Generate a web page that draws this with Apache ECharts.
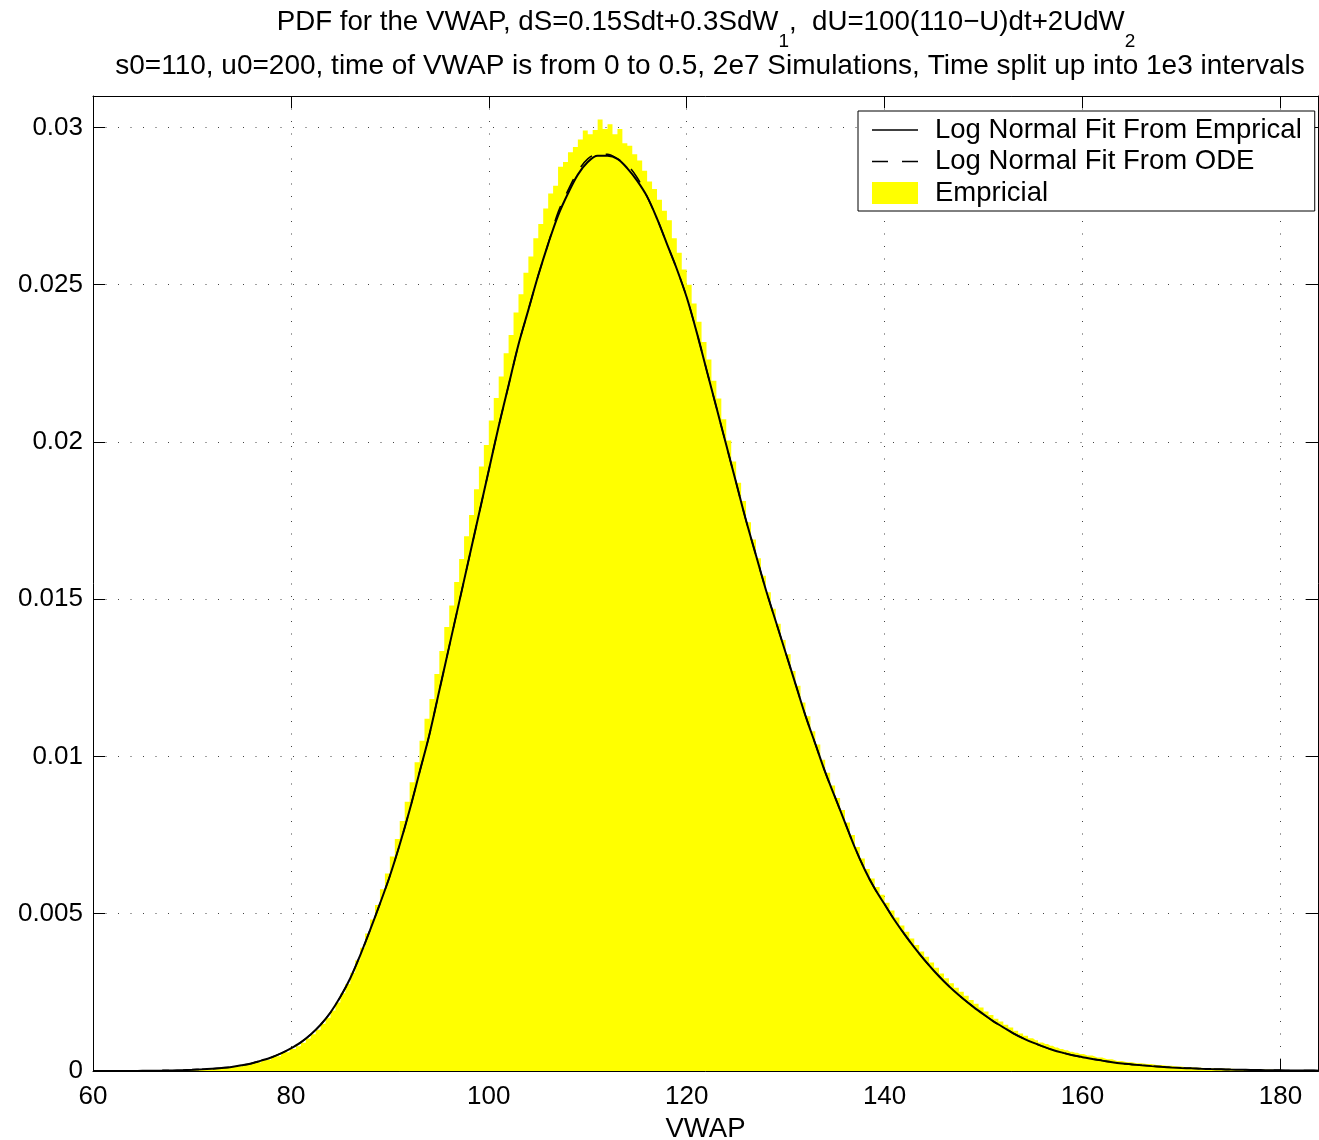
<!DOCTYPE html>
<html>
<head>
<meta charset="utf-8">
<script src="https://cdn.jsdelivr.net/npm/echarts@6/dist/echarts.min.js"></script>
<style>
  html, body { margin: 0; padding: 0; background: #fff; }
  #chart { width: 1319px; height: 1140px; }
</style>
</head>
<body>
<div id="chart"></div>
<script>
const FONT = '"Liberation Sans", Arial, Helvetica, sans-serif';

// Sample points of the fitted log-normal densities
const fitX = [
  60, 61, 62, 63, 64, 65, 66, 67, 68, 69,
  70, 71, 72, 73, 74, 75, 76, 77, 78, 79,
  80, 81, 82, 83, 84, 85, 86, 87, 88, 89,
  90, 91, 92, 93, 94, 95, 96, 97, 98, 99,
  100, 101, 102, 103, 104, 105, 106, 107, 108, 109,
  110, 111, 112, 113, 114, 115, 116, 117, 118, 119,
  120, 121, 122, 123, 124, 125, 126, 127, 128, 129,
  130, 131, 132, 133, 134, 135, 136, 137, 138, 139,
  140, 141, 142, 143, 144, 145, 146, 147, 148, 149,
  150, 151, 152, 153, 154, 155, 156, 157, 158, 159,
  160, 161, 162, 163, 164, 165, 166, 167, 168, 169,
  170, 171, 172, 173, 174, 175, 176, 177, 178, 179,
  180, 181, 182, 183, 184
];

// Log-normal fit from the empirical sample
const fitEmpirical = [
  0, 0, 0.000001, 0.000002, 0.000003, 0.000005, 0.000008, 0.000012, 0.000018, 0.000026,
  0.000037, 0.000052, 0.000072, 0.000098, 0.00013, 0.00018, 0.00024, 0.00033, 0.00043, 0.00056,
  0.00072, 0.00091, 0.00116, 0.00147, 0.00186, 0.00236, 0.00295, 0.00368, 0.00448, 0.00532,
  0.0062, 0.0072, 0.0083, 0.0095, 0.0107, 0.0121, 0.0135, 0.0149, 0.0163, 0.0177,
  0.0191, 0.0205, 0.0218, 0.0231, 0.0242, 0.0253, 0.0263, 0.0272, 0.0279, 0.0285,
  0.0289, 0.0291, 0.0291, 0.0290, 0.0287, 0.0283, 0.0278, 0.0271, 0.0263, 0.0255,
  0.0246, 0.0235, 0.0223, 0.0211, 0.0199, 0.0187, 0.0175, 0.0164, 0.0153, 0.0143,
  0.0133, 0.0123, 0.0113, 0.0104, 0.0095, 0.0087, 0.0079, 0.0071, 0.0064, 0.0058,
  0.0053, 0.0048, 0.00435, 0.00393, 0.00354, 0.00318, 0.00285, 0.00255, 0.00228, 0.00203,
  0.0018, 0.00158, 0.00139, 0.0012, 0.00104, 0.0009, 0.00078, 0.00067, 0.00058, 0.0005,
  0.00044, 0.00038, 0.00033, 0.00028, 0.00024, 0.00021, 0.00018, 0.000155, 0.000133, 0.000114,
  0.000098, 0.000084, 0.000072, 0.000062, 0.000053, 0.000045, 0.000039, 0.000033, 0.000028, 0.000024,
  0.00002, 0.000017, 0.000015, 0.000013, 0.000011
];

// Log-normal fit from the moment ODEs
const fitODE = [
  0, 0, 0.000001, 0.000002, 0.000003, 0.000005, 0.000008, 0.000012, 0.000018, 0.000026,
  0.000037, 0.000052, 0.000072, 0.000098, 0.00013, 0.00018, 0.00024, 0.00033, 0.00043, 0.00056,
  0.00072, 0.00091, 0.00116, 0.00147, 0.00186, 0.00236, 0.00295, 0.00368, 0.00448, 0.00532,
  0.0062, 0.0072, 0.0083, 0.0095, 0.0107, 0.0121, 0.0135, 0.0149, 0.0163, 0.0177,
  0.0191, 0.0205, 0.0218, 0.0231, 0.0242, 0.0253, 0.0263, 0.0273, 0.0280, 0.0286,
  0.0290, 0.02915, 0.02915, 0.0290, 0.0288, 0.0284, 0.0278, 0.0271, 0.0263, 0.0255,
  0.0246, 0.0235, 0.0223, 0.0211, 0.0199, 0.0187, 0.0175, 0.0164, 0.0153, 0.0143,
  0.0133, 0.0123, 0.0113, 0.0104, 0.0095, 0.0087, 0.0079, 0.0071, 0.0064, 0.0058,
  0.0053, 0.0048, 0.00435, 0.00393, 0.00354, 0.00318, 0.00285, 0.00255, 0.00228, 0.00203,
  0.0018, 0.00158, 0.00139, 0.0012, 0.00104, 0.0009, 0.00078, 0.00067, 0.00058, 0.0005,
  0.00044, 0.00038, 0.00033, 0.00028, 0.00024, 0.00021, 0.00018, 0.000155, 0.000133, 0.000114,
  0.000098, 0.000084, 0.000072, 0.000062, 0.000053, 0.000045, 0.000039, 0.000033, 0.000028, 0.000024,
  0.00002, 0.000017, 0.000015, 0.000013, 0.000011
];

// Empirical histogram: bin centres and normalised densities
const histCenters = [
  60.5, 61.5, 62.5, 63.5, 64.5, 65.5, 66.5, 67.5, 68.5, 69.5,
  70.5, 71.5, 72.5, 73.5, 74.5, 75.5, 76.5, 77.5, 78.5, 79.5,
  80.25, 80.75, 81.25, 81.75, 82.25, 82.75, 83.25, 83.75, 84.25, 84.75,
  85.25, 85.75, 86.25, 86.75, 87.25, 87.75, 88.25, 88.75, 89.25, 89.75,
  90.25, 90.75, 91.25, 91.75, 92.25, 92.75, 93.25, 93.75, 94.25, 94.75,
  95.25, 95.75, 96.25, 96.75, 97.25, 97.75, 98.25, 98.75, 99.25, 99.75,
  100.25, 100.75, 101.25, 101.75, 102.25, 102.75, 103.25, 103.75, 104.25, 104.75,
  105.25, 105.75, 106.25, 106.75, 107.25, 107.75, 108.25, 108.75, 109.25, 109.75,
  110.25, 110.75, 111.25, 111.75, 112.25, 112.75, 113.25, 113.75, 114.25, 114.75,
  115.25, 115.75, 116.25, 116.75, 117.25, 117.75, 118.25, 118.75, 119.25, 119.75,
  120.25, 120.75, 121.25, 121.75, 122.25, 122.75, 123.25, 123.75, 124.25, 124.75,
  125.25, 125.75, 126.25, 126.75, 127.25, 127.75, 128.25, 128.75, 129.25, 129.75,
  130.25, 130.75, 131.25, 131.75, 132.25, 132.75, 133.25, 133.75, 134.25, 134.75,
  135.25, 135.75, 136.25, 136.75, 137.25, 137.75, 138.25, 138.75, 139.25, 139.75,
  140.25, 140.75, 141.25, 141.75, 142.25, 142.75, 143.25, 143.75, 144.25, 144.75,
  145.25, 145.75, 146.25, 146.75, 147.25, 147.75, 148.25, 148.75, 149.25, 149.75,
  150.25, 150.75, 151.25, 151.75, 152.25, 152.75, 153.25, 153.75, 154.25, 154.75,
  155.25, 155.75, 156.25, 156.75, 157.25, 157.75, 158.25, 158.75, 159.25, 159.75,
  160.5, 161.5, 162.5, 163.5, 164.5, 165.5, 166.5, 167.5, 168.5, 169.5,
  170.5, 171.5, 172.5, 173.5, 174.5, 175.5, 176.5, 177.5, 178.5, 179.5,
  180.5, 181.5, 182.5, 183.5
];
const histDensity = [
  0, 0, 0.000001, 0.000002, 0.000004, 0.000006, 0.00001, 0.000015, 0.000021, 0.000031,
  0.000044, 0.000061, 0.000085, 0.000114, 0.00015, 0.0002, 0.00027, 0.00036, 0.00047, 0.0006,
  0.0007, 0.00079, 0.0009, 0.00103, 0.00117, 0.00131, 0.0015, 0.00169, 0.00192, 0.00218,
  0.00247, 0.00277, 0.00312, 0.00352, 0.00392, 0.00437, 0.00482, 0.00528, 0.00578, 0.00628,
  0.00682, 0.00738, 0.00795, 0.00856, 0.00918, 0.00982, 0.0105, 0.0112, 0.01183, 0.01262,
  0.01335, 0.01412, 0.0148, 0.01555, 0.01628, 0.017, 0.01768, 0.0185, 0.01922, 0.0199,
  0.02068, 0.0214, 0.02208, 0.02282, 0.0234, 0.02412, 0.0247, 0.02538, 0.0259, 0.02648,
  0.02693, 0.02742, 0.0279, 0.02815, 0.02875, 0.0289, 0.02921, 0.02938, 0.02962, 0.0299,
  0.02978, 0.02992, 0.03025, 0.02995, 0.0301, 0.02978, 0.02995, 0.0295, 0.02942, 0.02915,
  0.02895, 0.02862, 0.02828, 0.02804, 0.0277, 0.02735, 0.02705, 0.02648, 0.02602, 0.02548,
  0.025, 0.0244, 0.02382, 0.02318, 0.02262, 0.02195, 0.02138, 0.02072, 0.02005, 0.01938,
  0.0187, 0.01812, 0.01745, 0.0169, 0.0163, 0.01575, 0.01522, 0.0147, 0.01422, 0.0137,
  0.01325, 0.01272, 0.01225, 0.01172, 0.01128, 0.0108, 0.01038, 0.0099, 0.00948, 0.00908,
  0.00868, 0.0083, 0.0079, 0.0075, 0.00712, 0.00676, 0.00642, 0.00612, 0.00585, 0.0056,
  0.00535, 0.0051, 0.00488, 0.00463, 0.00443, 0.00421, 0.00401, 0.0038, 0.00363, 0.00345,
  0.00328, 0.0031, 0.00295, 0.00279, 0.00265, 0.00252, 0.00239, 0.00226, 0.00214, 0.00202,
  0.00189, 0.00178, 0.00166, 0.00157, 0.00147, 0.00138, 0.00128, 0.00119, 0.00112, 0.00104,
  0.00098, 0.00091, 0.00086, 0.0008, 0.00075, 0.0007, 0.00066, 0.00061, 0.00058, 0.00054,
  0.00049, 0.00043, 0.00037, 0.00032, 0.00028, 0.00025, 0.00022, 0.00019, 0.00017, 0.00014,
  0.00012, 0.0001, 0.00009, 0.00008, 0.00007, 0.00006, 0.00005, 0.00004, 0.00004, 0.00003,
  0.00003, 0.00002, 0.00002, 0.00002
];

const xTickLabels = [60, 80, 100, 120, 140, 160, 180];
const yTickLabels = [0, 0.005, 0.01, 0.015, 0.02, 0.025, 0.03];

const X_MIN = 60, X_MAX = 183.8, Y_MIN = 0, Y_MAX = 0.031;

const pairs = (xs, ys) => xs.map((x, i) => [x, ys[i]]);
const isTick = (list, v) => list.some(t => Math.abs(t - v) < 1e-9);

const gridDots = { color: '#444', width: 1, type: [1, 11.5] };
const frame = { show: true, onZero: false, lineStyle: { color: '#000', width: 1 } };
const inTicks = { show: true, inside: true, length: 12, lineStyle: { color: '#000', width: 1 } };
const solidFit = { color: '#000', width: 2 };
const dashedFit = { color: '#000', width: 1.5, type: [16, 14] };

// Legend keys: a plain stroke and a two-dash stroke
const ICON_SOLID = 'path://M0,0H46V1.6H0Z';
const ICON_DASHED = 'path://M0,0H16V1.6H0Z M30,0H46V1.6H30Z';

const chart = echarts.init(document.getElementById('chart'), null, { renderer: 'canvas' });

chart.setOption({
  animation: false,
  backgroundColor: '#fff',
  grid: { left: 93, right: 1, top: 96, bottom: 69, containLabel: false, outerBoundsMode: 'none' },
  graphic: [
    {
      type: 'text', x: 706, y: 8, z: 10,
      style: {
        text: '{m|PDF for the VWAP, dS=0.15Sdt+0.3SdW}{s|1}{m|,  dU=100(110\u2212U)dt+2UdW}{s|2}',
        align: 'center', verticalAlign: 'top',
        rich: {
          m: { fontSize: 27.7, fontFamily: FONT, lineHeight: 32, verticalAlign: 'top', fill: '#000' },
          s: { fontSize: 19, fontFamily: FONT, lineHeight: 19, padding: [24, 0, 0, 0], verticalAlign: 'top', fill: '#000' }
        }
      }
    },
    {
      type: 'text', x: 710, y: 66, z: 10,
      style: {
        text: 's0=110, u0=200, time of VWAP is from 0 to 0.5, 2e7 Simulations, Time split up into 1e3 intervals',
        fontSize: 28, fontFamily: FONT, fill: '#000', align: 'center', verticalAlign: 'middle'
      }
    }
  ],
  legend: {
    orient: 'vertical',
    left: 858, top: 111,
    padding: [5, 13, 4, 14],
    itemWidth: 46, itemHeight: 22, itemGap: 3.5,
    backgroundColor: '#fff',
    borderColor: '#000', borderWidth: 1, borderRadius: 0,
    selectedMode: false,
    textStyle: { fontSize: 27.5, fontFamily: FONT, color: '#000', padding: [0, 0, 0, 12] },
    data: [
      { name: 'Log Normal Fit From Emprical', icon: ICON_SOLID, itemStyle: { color: '#000', borderWidth: 0 } },
      { name: 'Log Normal Fit From ODE', icon: ICON_DASHED, itemStyle: { color: '#000', borderWidth: 0 } },
      { name: 'Empricial', icon: 'rect', itemStyle: { color: '#ffff00', borderWidth: 0 } }
    ]
  },
  xAxis: [
    {
      type: 'value', position: 'bottom', min: X_MIN, max: X_MAX, interval: 20,
      axisLine: frame, axisTick: inTicks,
      axisLabel: {
        show: true, margin: 13, fontSize: 26, fontFamily: FONT, color: '#000',
        showMaxLabel: false,
        formatter: v => isTick(xTickLabels, v) ? String(v) : ''
      },
      splitLine: { show: true, lineStyle: gridDots },
      name: 'VWAP', nameLocation: 'middle', nameGap: 44,
      nameTextStyle: { fontSize: 27.5, fontFamily: FONT, color: '#000' }
    },
    {
      type: 'value', position: 'top', min: X_MIN, max: X_MAX, interval: 20,
      axisLine: frame, axisTick: inTicks,
      axisLabel: { show: false }, splitLine: { show: false }
    }
  ],
  yAxis: [
    {
      type: 'value', position: 'left', min: Y_MIN, max: Y_MAX, interval: 0.005,
      axisLine: frame, axisTick: inTicks,
      axisLabel: {
        show: true, margin: 10, fontSize: 26, fontFamily: FONT, color: '#000',
        showMaxLabel: false,
        formatter: v => isTick(yTickLabels, v) ? String(parseFloat(v.toFixed(4))) : ''
      },
      splitLine: { show: true, lineStyle: gridDots }
    },
    {
      type: 'value', position: 'right', min: Y_MIN, max: Y_MAX, interval: 0.005,
      axisLine: frame, axisTick: inTicks,
      axisLabel: { show: false }, splitLine: { show: false }
    }
  ],
  series: [
    {
      name: 'Empricial', type: 'line', step: 'middle',
      data: pairs(histCenters, histDensity),
      symbol: 'none', silent: true, z: 1,
      color: '#ffff00',
      itemStyle: { color: '#ffff00' },
      lineStyle: { width: 0, color: '#ffff00' },
      areaStyle: { color: '#ffff00', opacity: 1 }
    },
    {
      name: 'Log Normal Fit From Emprical', type: 'line',
      data: pairs(fitX, fitEmpirical),
      symbol: 'none', smooth: 0.35, silent: true, z: 3,
      color: '#000',
      itemStyle: { color: '#000' },
      lineStyle: solidFit
    },
    {
      name: 'Log Normal Fit From ODE', type: 'line',
      data: pairs(fitX, fitODE),
      symbol: 'none', smooth: 0.35, silent: true, z: 4,
      color: '#000',
      itemStyle: { color: '#000' },
      lineStyle: dashedFit
    }
  ]
});
</script>
</body>
</html>
